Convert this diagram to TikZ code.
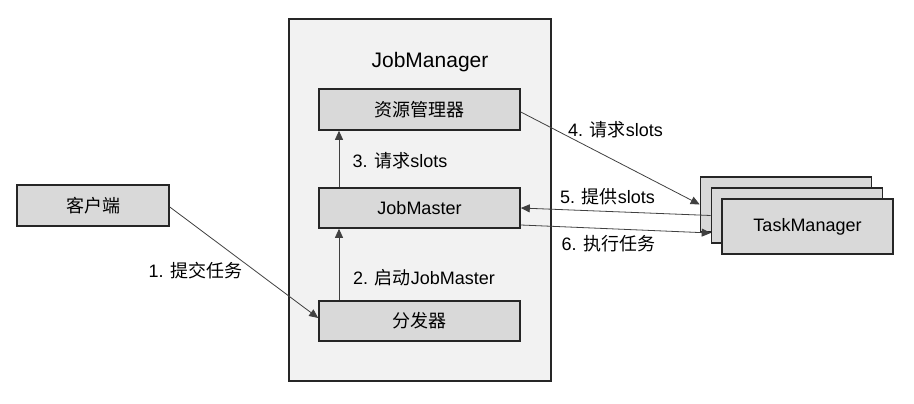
\documentclass[tikz,border=0pt]{standalone}
\usepackage{fontspec}
\setmainfont{Liberation Sans}
\newfontfamily\cjk{Noto Sans CJK SC}
\usetikzlibrary{arrows.meta}
\definecolor{outerfill}{HTML}{F2F2F2}
\definecolor{boxfill}{HTML}{D9D9D9}
\definecolor{linecol}{HTML}{404040}
\tikzset{
  box/.style={draw=black!85, line width=1.6pt, fill=boxfill, inner sep=0pt,
    font=\fontsize{18}{20}\selectfont},
  lbl/.style={inner sep=0pt, font=\fontsize{18}{20}\selectfont},
  arr/.style={draw=linecol, line width=0.8pt, -{Triangle[length=9pt,width=8pt]}}
}
\begin{document}
\begin{tikzpicture}[x=1pt,y=-1pt]
\useasboundingbox (0,0) rectangle (914,404);
\node[draw=black!85, line width=1.6pt, fill=outerfill, minimum width=262pt, minimum height=362pt] (jm) at (420,200) {};
\node[lbl, font=\fontsize{21}{24}\selectfont] (jmlabel) at (430,62) {JobManager};
\node[box, minimum width=152pt, minimum height=41pt] (client) at (93,205.5) {\cjk 客户端};
\node[box, minimum width=201pt, minimum height=41pt] (rm) at (419.5,109.5) {\cjk 资源管理器};
\node[box, minimum width=201pt, minimum height=40pt] (jmaster) at (419.5,208) {JobMaster};
\node[box, minimum width=201pt, minimum height=40pt] (disp) at (419.5,321) {\cjk 分发器};
\node[box, minimum width=171pt, minimum height=55pt] (tm1) at (786,204.5) {};
\node[box, minimum width=171pt, minimum height=55pt] (tm2) at (797,215.5) {};
\node[box, minimum width=171pt, minimum height=55pt] (tm3) at (807.5,226.5) {TaskManager};
% arrows
\draw[arr] ([yshift=-1.5pt]client.east) -- ([yshift=3pt]disp.west);
\draw[arr] ([xshift=-80.5pt]disp.north) -- ([xshift=-80.5pt]jmaster.south);
\draw[arr] ([xshift=-80.5pt]jmaster.north) -- ([xshift=-80.5pt]rm.south);
\draw[arr] ([yshift=-2.5pt]rm.east) -- (tm1.west);
\draw[arr] (tm2.west) -- (jmaster.east);
\draw[arr] ([yshift=-17pt]jmaster.east) -- ([yshift=-17.5pt]tm2.west);
% labels
\node[lbl] (l1) at (195.5,271) {1. {\cjk 提交任务}};
\node[lbl] (l2) at (424,278) {2. {\cjk 启动}JobMaster};
\node[lbl] (l3) at (400,161) {3. {\cjk 请求}slots};
\node[lbl] (l4) at (615.5,130) {4. {\cjk 请求}slots};
\node[lbl] (l5) at (607.5,197) {5. {\cjk 提供}slots};
\node[lbl] (l6) at (608.5,244) {6. {\cjk 执行任务}};
\end{tikzpicture}
\end{document}
